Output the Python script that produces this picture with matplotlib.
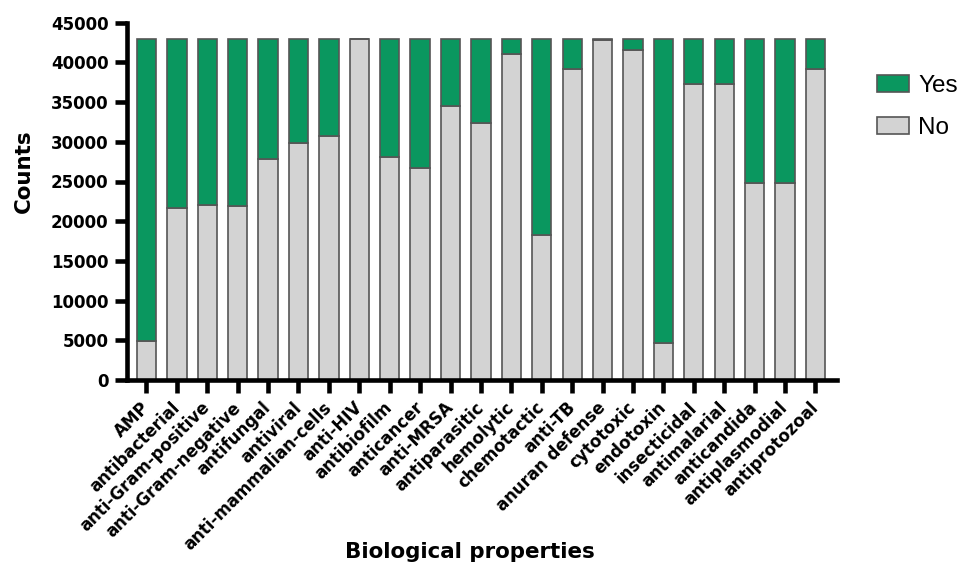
import matplotlib
matplotlib.use("Agg")
import matplotlib.pyplot as plt
import numpy as np
from matplotlib.patches import Patch

plt.rcParams['font.family'] = ['DejaVu Sans']

categories = ["AMP", "antibacterial", "anti-Gram-positive", "anti-Gram-negative",
              "antifungal", "antiviral", "anti-mammalian-cells", "anti-HIV",
              "antibiofilm", "anticancer", "anti-MRSA", "antiparasitic",
              "hemolytic", "chemotactic", "anti-TB", "anuran defense",
              "cytotoxic", "endotoxin", "insecticidal", "antimalarial",
              "anticandida", "antiplasmodial", "antiprotozoal"]
total = 43000
no_counts = [4850, 21650, 22050, 21950, 27850, 29850, 30780, 42900,
             28100, 26700, 34450, 32400, 41050, 18300, 39130, 42800,
             41550, 4650, 37250, 37250, 24770, 24850, 39130]
yes_counts = [total - v for v in no_counts]

green = "#0a975f"
grey = "#d3d3d3"
edge = "#555555"

W, H = 960, 567
fig = plt.figure(figsize=(W / 100, H / 100), dpi=100)
fig.canvas.draw()
renderer = fig.canvas.get_renderer()


def measure(s, fs, weight='bold', family='DejaVu Sans'):
    t = fig.text(0, 0, s, fontsize=fs, fontweight=weight, family=family)
    bb = t.get_window_extent(renderer)
    t.remove()
    return bb.width, bb.height


def fit_size(s, target_px, weight='bold', family='DejaVu Sans'):
    w, _ = measure(s, 10, weight, family)
    return 10 * target_px / w


ytick_fs = fit_size("45000", 58)
xtick_fs = fit_size("anti-mammalian-cells", 202)
ylab_fs = fit_size("Counts", 84)
xlab_fs = fit_size("Biological properties", 250)
leg_fs = fit_size("No", 31, weight='normal', family='Liberation Sans')

ax_l, ax_r, ax_t, ax_b = 126.7, 836.7, 22.7, 380.0
ax = fig.add_axes([ax_l / W, 1 - ax_b / H, (ax_r - ax_l) / W, (ax_b - ax_t) / H])

x = np.arange(len(categories))
w = 0.635
ax.bar(x, no_counts, width=w, color=grey, edgecolor=edge, linewidth=1.2, label="No")
ax.bar(x, yes_counts, width=w, bottom=no_counts, color=green, edgecolor=edge,
       linewidth=1.2, label="Yes")

ax.set_xlim(-0.65, 22.7)
ax.set_ylim(0, 45000)
ax.set_yticks(np.arange(0, 45001, 5000))
ax.set_xticks(x)
ax.set_xticklabels(categories, rotation=45, ha='right', va='center',
                   rotation_mode='anchor', fontsize=xtick_fs, fontweight='bold')
for lab in ax.get_yticklabels():
    lab.set_fontsize(ytick_fs)
    lab.set_fontweight('bold')

for s in ['top', 'right']:
    ax.spines[s].set_visible(False)
for s in ['left', 'bottom']:
    ax.spines[s].set_linewidth(3.3)
ax.tick_params(axis='both', width=3.3, length=9, direction='out')
ax.tick_params(axis='y', pad=4)
ax.tick_params(axis='x', pad=9)

ax.set_ylabel("Counts", fontsize=ylab_fs, fontweight='bold')
ax.yaxis.label.set(ha='center', va='center', rotation_mode='anchor')
ax.yaxis.set_label_coords((24 - ax_l) / (ax_r - ax_l), (ax_b - 171.5) / (ax_b - ax_t))
ax.set_xlabel("Biological properties", fontsize=xlab_fs, fontweight='bold')
ax.xaxis.label.set(ha='center', va='center')
ax.xaxis.set_label_coords((470 - ax_l) / (ax_r - ax_l), (ax_b - 552) / (ax_b - ax_t))

handles = [Patch(facecolor=green, edgecolor=edge, linewidth=1.2, label="Yes"),
           Patch(facecolor=grey, edgecolor=edge, linewidth=1.2, label="No")]
em = leg_fs * 100 / 72
_, th = measure("Yes", leg_fs, weight='normal', family='Liberation Sans')
row_h = max(th, 16)
fig.legend(handles=handles, loc='upper left',
           bbox_to_anchor=(877 / W, 1 - (86 - row_h / 2) / H),
           frameon=False, prop={'family': 'Liberation Sans', 'size': leg_fs},
           handlelength=32 / em, handleheight=16 / em,
           labelspacing=(42 - row_h) / em, handletextpad=9 / em,
           borderaxespad=0, borderpad=0)

fig.savefig("out.png", dpi=100)
